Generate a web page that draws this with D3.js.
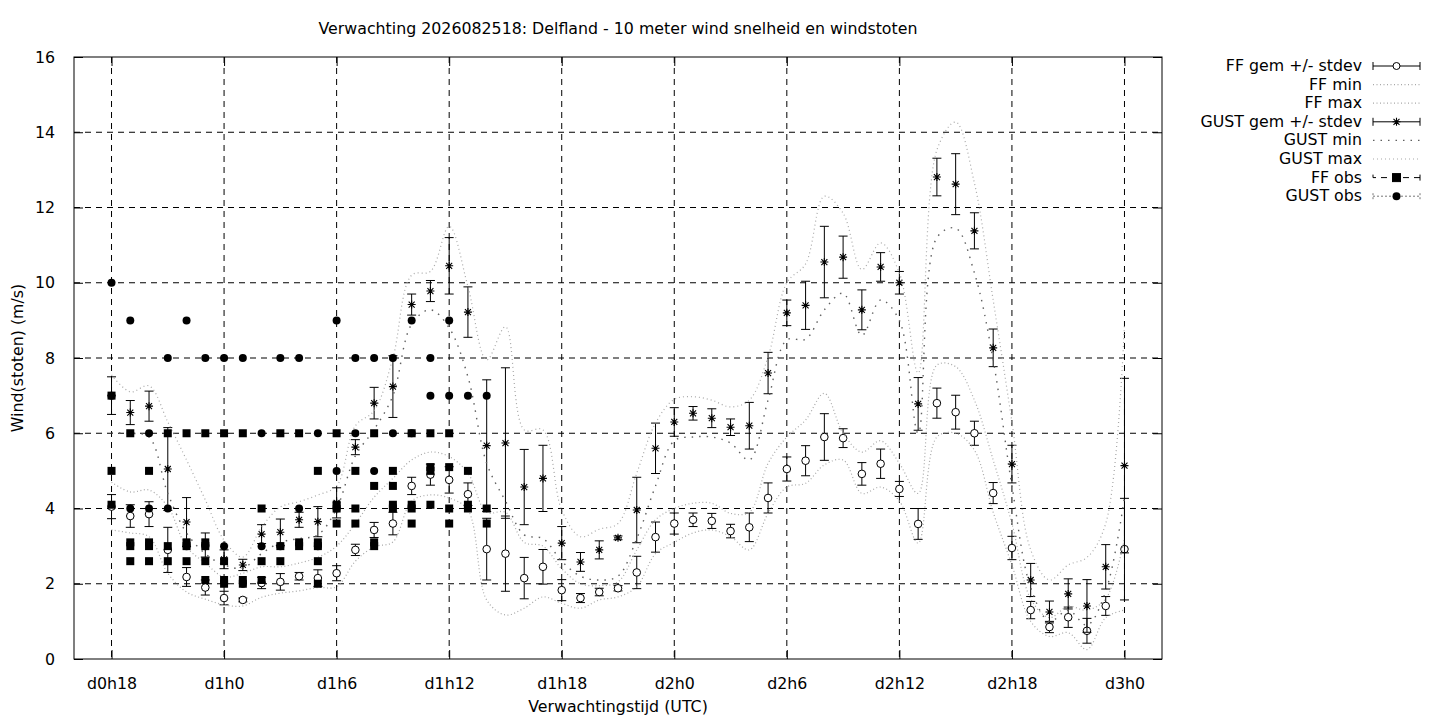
<!DOCTYPE html>
<html>
<head>
  <meta charset="utf-8">
  <title>Delfland wind</title>
  <style>
    body { margin: 0; background: #fff; }
    text { font-family: "DejaVu Sans", sans-serif; font-size: 15.8px; fill: #000; }
  </style>
</head>
<body>
<script src="https://cdnjs.cloudflare.com/ajax/libs/d3/7.8.5/d3.min.js"></script>
<script>
// forecast hours (UTC, counted from d0h0)
const hours = [18, 19, 20, 21, 22, 23, 24, 25, 26, 27, 28, 29, 30, 31, 32, 33, 34, 35, 36, 37,
  38, 39, 40, 41, 42, 43, 44, 45, 46, 47, 48, 49, 50, 51, 52, 53, 54, 55, 56, 57,
  58, 59, 60, 61, 62, 63, 64, 65, 66, 67, 68, 69, 70, 71, 72];

const ffMean = [4.05, 3.8, 3.85, 2.9, 2.18, 1.9, 1.62, 1.57, 2.02, 2.05, 2.2, 2.15, 2.28, 2.9, 3.43, 3.6, 4.6, 4.9, 4.76, 4.38,
  2.92, 2.8, 2.15, 2.45, 1.83, 1.62, 1.78, 1.88, 2.3, 3.24, 3.6, 3.7, 3.67, 3.4, 3.5, 4.28, 5.05, 5.27, 5.9, 5.87,
  4.92, 5.19, 4.52, 3.59, 6.8, 6.56, 6.0, 4.41, 2.95, 1.3, 0.85, 1.11, 0.75, 1.41, 2.92];
const ffStd = [0.32, 0.3, 0.33, 0.6, 0.25, 0.2, 0.18, 0.05, 0.15, 0.22, 0.1, 0.22, 0.2, 0.15, 0.2, 0.3, 0.23, 0.28, 0.35, 0.3,
  0.82, 1.0, 0.55, 0.46, 0.28, 0.12, 0.1, 0.07, 0.43, 0.4, 0.28, 0.18, 0.2, 0.18, 0.38, 0.4, 0.32, 0.4, 0.62, 0.25,
  0.3, 0.39, 0.2, 0.41, 0.4, 0.45, 0.32, 0.28, 0.31, 0.23, 0.15, 0.27, 0.33, 0.25, 1.35];
const ffMin = [3.43, 3.35, 3.25, 2.28, 1.78, 1.59, 1.44, 1.41, 1.64, 1.75, 1.81, 1.9, 1.92, 2.6, 2.98, 3.11, 4.2, 4.36, 4.28, 3.96,
  1.57, 1.17, 1.35, 1.65, 1.48, 1.35, 1.57, 1.65, 1.92, 2.8, 3.1, 3.35, 3.43, 3.25, 2.9, 3.87, 4.57, 4.67, 5.16, 5.29,
  4.4, 4.57, 4.2, 3.08, 5.9, 6.0, 5.55, 3.9, 2.5, 1.0, 0.6, 0.7, 0.25, 1.1, 1.3];
const ffMax = [4.7, 4.44, 4.49, 4.05, 2.98, 2.55, 2.18, 2.28, 2.45, 2.45, 2.55, 2.7, 3.0, 3.6, 4.3, 4.8, 5.29, 5.5, 5.38, 4.94,
  3.9, 3.9, 3.1, 3.0, 2.4, 2.0, 1.95, 2.05, 2.9, 3.7, 4.0, 4.14, 4.14, 3.87, 3.9, 5.2, 5.9, 6.35, 7.06, 6.0,
  5.5, 5.8, 5.2, 4.4, 7.81, 7.77, 6.88, 5.29, 3.6, 1.6, 1.1, 1.4, 1.3, 1.6, 3.2];

const gustMean = [7.0, 6.55, 6.72, 5.05, 3.64, 3.03, 2.65, 2.5, 3.32, 3.37, 3.7, 3.65, 4.15, 5.63, 6.8, 7.24, 9.42, 9.78, 10.45, 9.22,
  5.67, 5.74, 4.57, 4.8, 3.08, 2.58, 2.9, 3.22, 3.96, 5.6, 6.3, 6.53, 6.4, 6.16, 6.2, 7.6, 9.2, 9.4, 10.55, 10.68,
  9.28, 10.42, 10.0, 6.78, 12.81, 12.62, 11.38, 8.27, 5.18, 2.1, 1.25, 1.73, 1.41, 2.45, 5.14];
const gustStd = [0.5, 0.32, 0.4, 1.1, 0.65, 0.32, 0.25, 0.15, 0.25, 0.35, 0.2, 0.4, 0.4, 0.2, 0.42, 0.82, 0.28, 0.28, 0.75, 0.67,
  1.75, 2.0, 1.0, 0.88, 0.44, 0.25, 0.24, 0.05, 0.87, 0.67, 0.38, 0.18, 0.25, 0.22, 0.62, 0.55, 0.34, 0.64, 0.95, 0.56,
  0.53, 0.38, 0.3, 0.7, 0.5, 0.81, 0.48, 0.5, 0.5, 0.44, 0.29, 0.4, 0.7, 0.59, 2.32];
const gustMin = [6.0, 6.0, 5.9, 4.4, 3.35, 2.8, 2.5, 2.42, 2.8, 3.1, 3.2, 3.3, 4.0, 5.4, 6.1, 7.0, 8.9, 9.28, 8.8, 7.5,
  5.2, 4.2, 3.3, 3.2, 2.6, 2.2, 2.1, 2.2, 3.2, 4.6, 5.8, 5.9, 5.9, 5.74, 5.29, 6.88, 8.48, 8.5, 9.28, 9.72,
  8.6, 9.54, 9.0, 6.0, 11.2, 11.45, 10.26, 7.95, 4.6, 1.9, 1.0, 1.3, 0.9, 1.8, 4.3];
const gustMax = [7.55, 7.1, 7.26, 6.3, 5.29, 4.23, 3.16, 2.71, 3.5, 4.04, 4.18, 4.36, 4.6, 6.2, 6.6, 8.0, 10.2, 10.3, 11.5, 9.9,
  7.95, 8.83, 6.09, 6.09, 3.96, 3.25, 3.45, 3.6, 4.94, 6.27, 6.9, 6.97, 6.88, 6.7, 6.88, 8.03, 10.0, 10.5, 12.3, 11.85,
  10.35, 11.06, 10.26, 7.6, 13.53, 14.27, 12.65, 9.54, 6.3, 2.9, 2.1, 2.5, 2.7, 3.6, 8.9];

// observations, several readings per hour
const obsHours = [18, 19, 20, 21, 22, 23, 24, 25, 26, 27, 28, 29, 30, 31, 32, 33, 34, 35, 36, 37, 38];
const ffObs = [
  [7, 5, 4.1], [6, 3.1, 3.0, 2.6], [5, 3.1, 3.0, 2.6], [6, 3.0, 2.6], [6, 3.1, 3.0, 2.6],
  [6, 3.1, 3.0, 2.6, 2.1], [6, 2.6, 2.1, 2.0], [6, 2.1, 2.0], [4, 2.6, 2.1], [6, 3.0, 2.6],
  [6, 3.1, 3.0], [5, 3.1, 3.0, 2.6, 2.0], [6, 4.1, 4.0, 3.6], [5, 4.0, 3.6], [6, 4.6, 3.1, 3.0],
  [5, 4.6, 4.1, 4.0], [6, 4.1, 4.0, 3.6], [6, 5.1, 5.0, 4.1], [6, 5.1, 4.0, 3.6], [5, 4.1, 4.0], [4.0, 3.6]
];
const gustObs = [
  [10, 7], [9, 4], [6, 4], [8, 4], [9, 3], [8, 3], [8, 3], [8, 2], [6, 3], [8, 3],
  [8, 4], [6, 3], [9, 5, 4], [8, 6], [8, 5], [8, 6], [9, 6], [8, 7], [9, 7], [7], [7]
];

const tickHours = [18, 24, 30, 36, 42, 48, 54, 60, 66, 72];
const tickLabels = ["d0h18", "d1h0", "d1h6", "d1h12", "d1h18", "d2h0", "d2h6", "d2h12", "d2h18", "d3h0"];
const yTicks = [0, 2, 4, 6, 8, 10, 12, 14, 16];

const width = 1440, height = 720;
const plotL = 74, plotR = 1162, plotT = 57, plotB = 659;
const fontSize = 15.8;

const svg = d3.select("body").append("svg")
  .attr("width", width)
  .attr("height", height);

const x = d3.scaleLinear().domain([16, 74]).range([plotL, plotR]);
const y = d3.scaleLinear().domain([0, 16]).range([plotB, plotT]);

// grid
const grid = svg.append("g").attr("stroke", "#000").attr("stroke-width", 1).attr("stroke-dasharray", "6,5");
grid.selectAll(".gx").data(tickHours).enter().append("line")
  .attr("x1", d => x(d)).attr("x2", d => x(d)).attr("y1", plotT).attr("y2", plotB);
grid.selectAll(".gy").data(yTicks.slice(1, -1)).enter().append("line")
  .attr("x1", plotL).attr("x2", plotR).attr("y1", d => y(d)).attr("y2", d => y(d));

// axes: ticks drawn inward on all sides
const axB = svg.append("g").attr("transform", `translate(0,${plotB})`)
  .call(d3.axisBottom(x).tickValues(tickHours).tickFormat((d, i) => tickLabels[i]).tickSizeInner(-9).tickSizeOuter(0).tickPadding(19));
const axT = svg.append("g").attr("transform", `translate(0,${plotT})`)
  .call(d3.axisTop(x).tickValues(tickHours).tickFormat("").tickSizeInner(-9).tickSizeOuter(0));
const axL = svg.append("g").attr("transform", `translate(${plotL},0)`)
  .call(d3.axisLeft(y).tickValues(yTicks).tickSizeInner(-9).tickSizeOuter(0).tickPadding(19));
const axR = svg.append("g").attr("transform", `translate(${plotR},0)`)
  .call(d3.axisRight(y).tickValues(yTicks).tickFormat("").tickSizeInner(-9).tickSizeOuter(0));
[axB, axT, axL, axR].forEach(a => {
  a.select(".domain").remove();
  a.selectAll("line").attr("stroke", "#000");
  a.selectAll("text").attr("font-family", "DejaVu Sans").attr("font-size", fontSize).attr("fill", "#000");
});

svg.append("rect")
  .attr("x", plotL).attr("y", plotT)
  .attr("width", plotR - plotL).attr("height", plotB - plotT)
  .attr("fill", "none").attr("stroke", "#000").attr("stroke-width", 1);

// helpers
const cap = 4.5;
function errorBars(g, mean, std) {
  hours.forEach((h, i) => {
    const cx = x(h), y1 = y(mean[i] - std[i]), y2 = y(mean[i] + std[i]);
    g.append("line").attr("x1", cx).attr("x2", cx).attr("y1", y1).attr("y2", y2);
    g.append("line").attr("x1", cx - cap).attr("x2", cx + cap).attr("y1", y1).attr("y2", y1);
    g.append("line").attr("x1", cx - cap).attr("x2", cx + cap).attr("y1", y2).attr("y2", y2);
  });
}
function star(g, cx, cy) {
  const s = 4;
  g.append("path")
    .attr("d", `M${cx - s},${cy}H${cx + s}M${cx},${cy - s}V${cy + s}M${cx - s * 0.75},${cy - s * 0.75}L${cx + s * 0.75},${cy + s * 0.75}M${cx - s * 0.75},${cy + s * 0.75}L${cx + s * 0.75},${cy - s * 0.75}`)
    .attr("stroke", "#000").attr("stroke-width", 1.1).attr("fill", "none");
}
const curve = d3.line().x(d => x(d[0])).y(d => y(d[1])).curve(d3.curveCatmullRom.alpha(0.5));
function envelope(vals, color, dash, w) {
  svg.append("path")
    .attr("d", curve(hours.map((h, i) => [h, vals[i]])))
    .attr("fill", "none").attr("stroke", color).attr("stroke-width", w).attr("stroke-dasharray", dash);
}

const lightDot = "#a8a8a8", darkDot = "#606060";

// FF gem +/- stdev
const ffG = svg.append("g").attr("stroke", "#000").attr("stroke-width", 1);
errorBars(ffG, ffMean, ffStd);
ffG.selectAll("circle").data(hours).enter().append("circle")
  .attr("cx", d => x(d)).attr("cy", (d, i) => y(ffMean[i])).attr("r", 3.8)
  .attr("fill", "#fff");

envelope(ffMin, lightDot, "1,2.5", 1.2);
envelope(ffMax, lightDot, "1,2.5", 1.2);

// GUST gem +/- stdev
const gG = svg.append("g").attr("stroke", "#000").attr("stroke-width", 1);
errorBars(gG, gustMean, gustStd);
hours.forEach((h, i) => star(gG, x(h), y(gustMean[i])));

envelope(gustMin, darkDot, "1.5,6", 1.4);
envelope(gustMax, lightDot, "1,3", 1.2);

// observations
obsHours.forEach((h, i) => {
  ffObs[i].forEach(v => {
    svg.append("rect").attr("x", x(h) - 4).attr("y", y(v) - 4).attr("width", 8).attr("height", 8).attr("fill", "#000");
  });
});
obsHours.forEach((h, i) => {
  gustObs[i].forEach(v => {
    svg.append("circle").attr("cx", x(h)).attr("cy", y(v)).attr("r", 4).attr("fill", "#000");
  });
});

// titles
svg.append("text").attr("x", 618).attr("y", 34).attr("text-anchor", "middle")
  .text("Verwachting 2026082518: Delfland - 10 meter wind snelheid en windstoten");
svg.append("text").attr("x", 618).attr("y", 712).attr("text-anchor", "middle")
  .text("Verwachtingstijd (UTC)");
svg.append("text").attr("transform", "translate(23,358) rotate(-90)").attr("text-anchor", "middle")
  .text("Wind(stoten) (m/s)");

// legend
const legendNames = ["FF gem +/- stdev", "FF min", "FF max", "GUST gem +/- stdev", "GUST min", "GUST max", "FF obs", "GUST obs"];
const lx1 = 1373, lx2 = 1420, lxm = (lx1 + lx2) / 2;
const leg = svg.append("g");
legendNames.forEach((name, i) => {
  const ly = 66 + i * 18.6;
  leg.append("text").attr("x", 1362).attr("y", ly + 5).attr("text-anchor", "end").text(name);
  const s = leg.append("g").attr("stroke", "#000").attr("stroke-width", 1).attr("fill", "none");
  if (i === 0 || i === 3) {
    s.append("path").attr("d", `M${lx1},${ly}H${lx2}M${lx1},${ly - 4}V${ly + 4}M${lx2},${ly - 4}V${ly + 4}`);
    if (i === 0) s.append("circle").attr("cx", lxm).attr("cy", ly).attr("r", 3.5).attr("fill", "#fff");
    else star(s, lxm, ly);
  } else if (i === 4) {
    s.append("line").attr("x1", lx1).attr("x2", lx2).attr("y1", ly).attr("y2", ly)
      .attr("stroke", darkDot).attr("stroke-width", 1.4).attr("stroke-dasharray", "1.5,6");
  } else if (i === 6) {
    s.append("path").attr("d", `M${lx1},${ly - 3}V${ly}H${lx2}M${lx2},${ly - 3}V${ly + 3}`).attr("stroke-dasharray", "6,5");
    s.append("rect").attr("x", lxm - 4).attr("y", ly - 4).attr("width", 8).attr("height", 8).attr("fill", "#000");
  } else if (i === 7) {
    s.append("path").attr("d", `M${lx1},${ly - 3}V${ly + 3}M${lx1},${ly}H${lx2}M${lx2},${ly - 3}V${ly + 3}`)
      .attr("stroke", "#777").attr("stroke-dasharray", "2,2");
    s.append("circle").attr("cx", lxm).attr("cy", ly).attr("r", 4).attr("fill", "#000").attr("stroke", "none");
  } else {
    s.append("line").attr("x1", lx1).attr("x2", lx2).attr("y1", ly).attr("y2", ly)
      .attr("stroke", lightDot).attr("stroke-width", 1.2).attr("stroke-dasharray", i === 5 ? "1,3" : "1,2.5");
  }
});
</script>
</body>
</html>
